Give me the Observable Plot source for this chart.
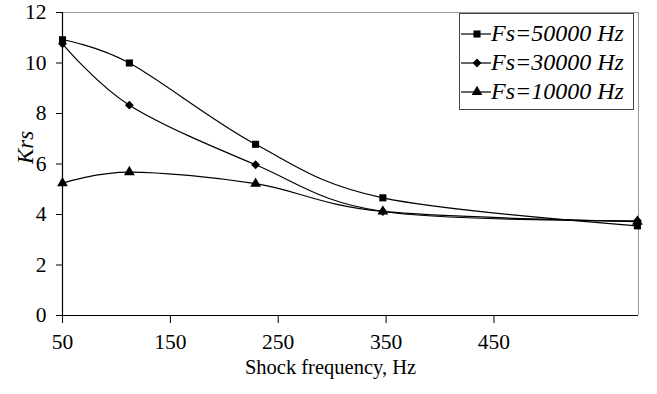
<!DOCTYPE html>
<html>
<head>
<meta charset="utf-8">
<script src="https://cdn.jsdelivr.net/npm/d3@7"></script>
<script src="https://cdn.jsdelivr.net/npm/@observablehq/plot@0.6"></script>
<style>
  html, body { margin: 0; padding: 0; background: #fff; }
  #wrap { position: relative; width: 657px; height: 394px; }
  #wrap svg text { font-family: "Liberation Serif", "Times New Roman", Times, "DejaVu Serif", serif; }
  #legend { position: absolute; left: 459px; top: 13px; width: 175px; height: 97px;
            border: 1px solid #444; background: #fff; box-sizing: border-box;
            font-family: "Liberation Serif", "Times New Roman", Times, "DejaVu Serif", serif; font-style: italic; font-size: 24px; }
  .row { position: absolute; left: 0; height: 29px; display: flex; align-items: center; }
  .row svg { display: block; }
  .row span { margin-left: 0px; white-space: nowrap; }
</style>
</head>
<body>
<div id="wrap"><div id="legend"></div></div>
<script>
// Data (x read against the printed axis)
const seriesNames = ["Fs=50000 Hz", "Fs=30000 Hz", "Fs=10000 Hz"];
const freq = [50, 112, 229, 347, 583];
const krs50000 = [10.92, 10.0, 6.78, 4.66, 3.55];
const krs30000 = [10.76, 8.33, 5.97, 4.12, 3.75];
const krs10000 = [5.24, 5.68, 5.22, 4.12, 3.72];
const symbols = ["square", "diamond2", "triangle"];
const xTicks = [50, 150, 250, 350, 450];
const yTicks = [0, 2, 4, 6, 8, 10, 12];
const xTitle = "Shock frequency, Hz";
const yTitle = "Krs";

const allSeries = [krs50000, krs30000, krs10000];
const data = [];
allSeries.forEach((vals, i) => vals.forEach((v, j) => data.push({series: seriesNames[i], x: freq[j], y: v})));

const serif = "'Liberation Serif', 'Times New Roman', Times, 'DejaVu Serif', serif";

const chart = Plot.plot({
  width: 657,
  height: 394,
  marginLeft: 62,
  marginRight: 19,
  marginTop: 12,
  marginBottom: 79,
  style: {fontFamily: serif, fontSize: "21px", color: "#000", background: "#fff"},
  x: {domain: [50, 584]},
  y: {domain: [0, 12]},
  symbol: {domain: seriesNames, range: symbols},
  marks: [
    Plot.ruleY([12], {stroke: "#999", strokeWidth: 1}),
    Plot.ruleX([584], {stroke: "#999", strokeWidth: 1}),
    Plot.axisX({ticks: xTicks, tickSize: 8, tickPadding: 10, fontSize: 21.5, fontFamily: serif, label: null, stroke: "#000"}),
    Plot.axisY({ticks: yTicks, tickSize: 6, tickPadding: 10, fontSize: 21.5, fontFamily: serif, label: null, stroke: "#000"}),
    Plot.ruleX([50], {stroke: "#000", strokeWidth: 1.2}),
    Plot.ruleY([0], {stroke: "#000", strokeWidth: 1.2}),
    Plot.line(data, {x: "x", y: "y", z: "series", curve: "cardinal", stroke: "#000", strokeWidth: 1.2}),
    Plot.dot(data, {x: "x", y: "y", symbol: "series", fill: "#000", stroke: "none", r: 4}),
    Plot.text([xTitle], {frameAnchor: "bottom", dx: -20, dy: 58, fontSize: 20.5, fontFamily: serif, fill: "#000"}),
    Plot.text([yTitle], {frameAnchor: "left", dx: -37, rotate: -90, fontSize: 23, fontFamily: serif, fontStyle: "italic", fill: "#000"})
  ]
});
document.getElementById("wrap").prepend(chart);

// Legend
const legend = d3.select("#legend");
seriesNames.forEach((name, i) => {
  const row = legend.append("div").attr("class", "row").style("top", (5 + i * 29) + "px");
  const svg = row.append("svg").attr("width", 31).attr("height", 20);
  svg.append("line").attr("x1", 1).attr("x2", 31).attr("y1", 10).attr("y2", 10).attr("stroke", "#000").attr("stroke-width", 1.2);
  const sym = {square: d3.symbolSquare, diamond2: d3.symbolDiamond2, triangle: d3.symbolTriangle}[symbols[i]];
  svg.append("path").attr("d", d3.symbol(sym, 50)()).attr("transform", "translate(17,10)").attr("fill", "#000");
  row.append("span").text(name);
});
</script>
</body>
</html>
